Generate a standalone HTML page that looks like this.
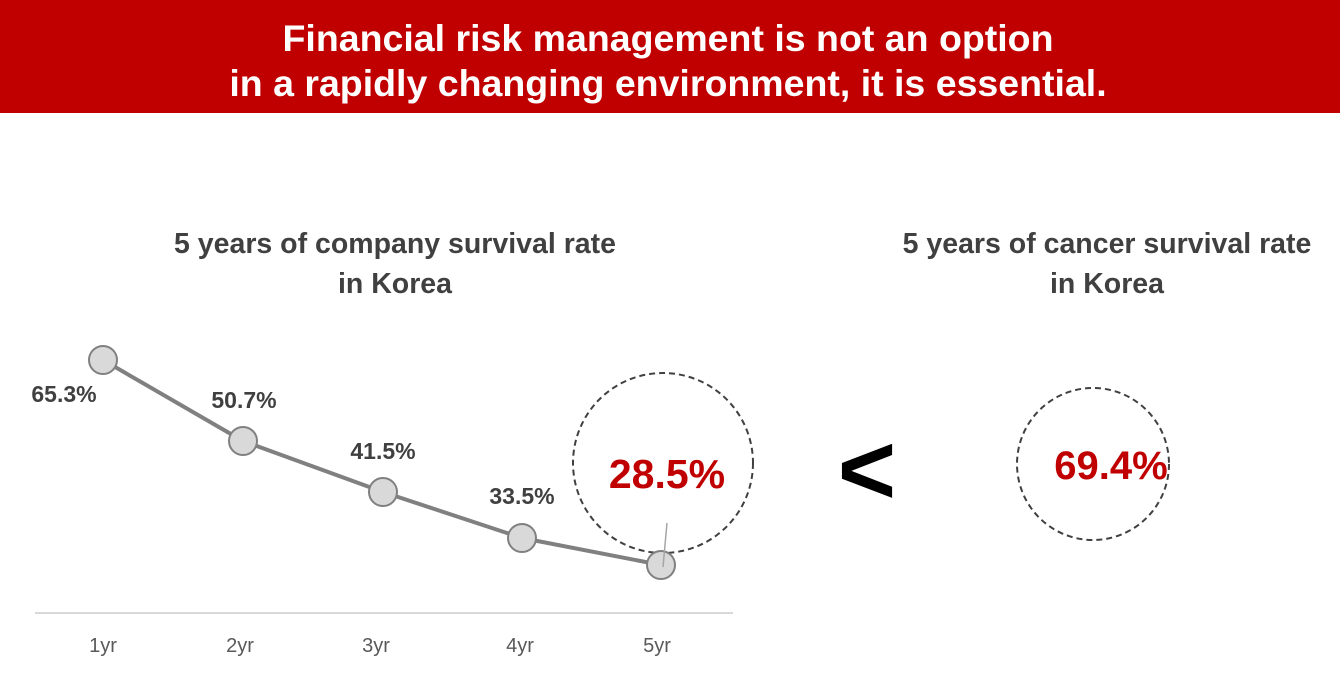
<!DOCTYPE html>
<html><head><meta charset="utf-8"><style>
html,body{margin:0;padding:0;background:#fff;}
body{width:1340px;height:674px;overflow:hidden;position:relative;font-family:"Liberation Sans",sans-serif;}
.banner{position:absolute;left:0;top:0;width:1340px;height:113px;background:#c00000;}
</style></head><body>
<div class="banner"></div>
<svg width="1340" height="674" style="position:absolute;left:0;top:0" font-family="Liberation Sans, sans-serif">
<g fill="#fff" font-weight="bold" font-size="37.5" text-anchor="middle">
<text x="668" y="51">Financial risk management is not an option</text>
<text x="668" y="96">in a rapidly changing environment, it is essential.</text>
</g>
<g fill="#404040" font-weight="bold" font-size="28.5" text-anchor="middle">
<text x="395" y="253">5 years of company survival rate</text>
<text x="395" y="293">in Korea</text>
<text x="1107" y="253">5 years of cancer survival rate</text>
<text x="1107" y="293">in Korea</text>
</g>
<line x1="35" y1="613" x2="733" y2="613" stroke="#d9d9d9" stroke-width="2"/>
<g fill="#595959" font-size="20" text-anchor="middle">
<text x="103" y="652">1yr</text><text x="240" y="652">2yr</text><text x="376" y="652">3yr</text><text x="520" y="652">4yr</text><text x="657" y="652">5yr</text>
</g>
<polyline points="103,360 243,441 383,492 522,538 661,565" fill="none" stroke="#808080" stroke-width="4"/>
<circle cx="663" cy="463" r="90" fill="none" stroke="#404040" stroke-width="2" stroke-dasharray="6,4"/>
<circle cx="1093" cy="464" r="76" fill="none" stroke="#404040" stroke-width="2" stroke-dasharray="6,4"/>
<g fill="#d9d9d9" stroke="#808080" stroke-width="2">
<circle cx="103" cy="360" r="14"/><circle cx="243" cy="441" r="14"/><circle cx="383" cy="492" r="14"/><circle cx="522" cy="538" r="14"/><circle cx="661" cy="565" r="14"/>
</g>
<line x1="667" y1="523" x2="663" y2="567" stroke="#a6a6a6" stroke-width="1.5"/>
<g fill="#404040" font-weight="bold" font-size="23" text-anchor="middle">
<text x="64" y="402">65.3%</text><text x="244" y="408">50.7%</text><text x="383" y="459">41.5%</text><text x="522" y="504">33.5%</text>
</g>
<g fill="#c00000" font-weight="bold" text-anchor="middle">
<text x="667" y="488" font-size="41">28.5%</text>
<text x="1111" y="479" font-size="40">69.4%</text>
</g>
<text x="867" y="504" font-size="100" font-weight="bold" text-anchor="middle" fill="#000">&lt;</text>
</svg>
</body></html>
